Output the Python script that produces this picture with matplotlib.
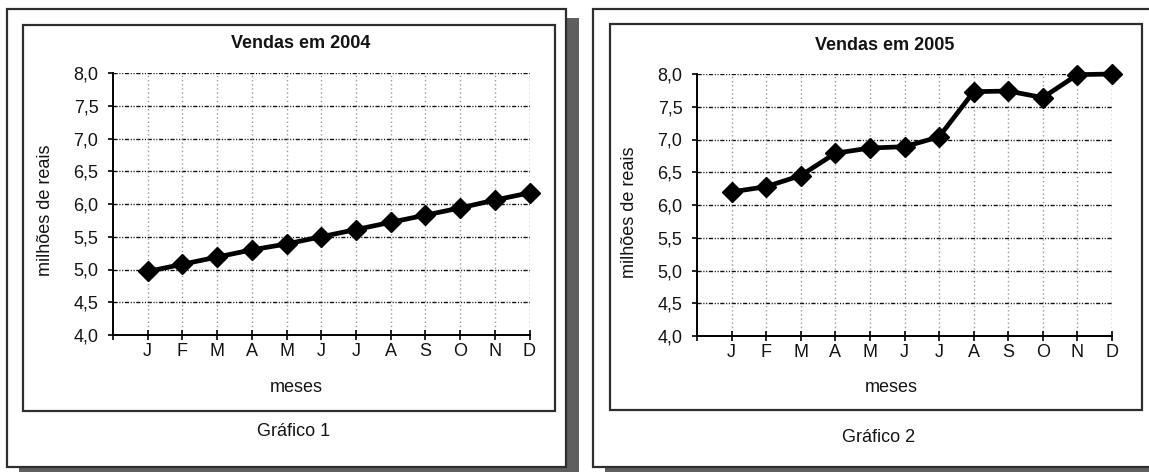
import matplotlib
matplotlib.use("Agg")
import matplotlib.pyplot as plt
from matplotlib.patches import Rectangle

plt.rcParams['font.family'] = ['Liberation Sans', 'DejaVu Sans']

months = ["J", "F", "M", "A", "M", "J", "J", "A", "S", "O", "N", "D"]
sales_2004 = [4.97, 5.08, 5.19, 5.30, 5.39, 5.50, 5.61, 5.72, 5.83, 5.94, 6.06, 6.17]
sales_2005 = [6.20, 6.28, 6.45, 6.79, 6.87, 6.89, 7.04, 7.73, 7.74, 7.64, 7.99, 8.00]
y_ticks = [4.0, 4.5, 5.0, 5.5, 6.0, 6.5, 7.0, 7.5, 8.0]
y_tick_labels = ["4,0", "4,5", "5,0", "5,5", "6,0", "6,5", "7,0", "7,5", "8,0"]
titles = ["Vendas em 2004", "Vendas em 2005"]
captions = ["Gráfico 1", "Gráfico 2"]
x_label = "meses"
y_label = "milhões de reais"

W, H = 1149, 472
fig = plt.figure(figsize=(W / 100, H / 100), dpi=100)

# background layer in pixel coordinates for the frames and shadows
bg = fig.add_axes([0, 0, 1, 1], zorder=-5)
bg.set_xlim(0, W)
bg.set_ylim(H, 0)
bg.axis("off")

SHADOW = "#5e5e5e"
FRAME = "#2e2e2e"
TEXT = "#141414"

def panel(x0, x1, y0, y1, ix0, ix1, iy0, iy1, shadow_right=True):
    if shadow_right:
        bg.add_patch(Rectangle((x1, y0 + 9), 13, H - (y0 + 9), color=SHADOW, lw=0))
    bg.add_patch(Rectangle((x0 + 12, y1), (x1 - x0) + 1, H - y1, color=SHADOW, lw=0))
    bg.add_patch(Rectangle((x0, y0), x1 - x0, y1 - y0, facecolor="white",
                           edgecolor=FRAME, lw=1.6))
    bg.add_patch(Rectangle((ix0, iy0), ix1 - ix0, iy1 - iy0, facecolor="white",
                           edgecolor=FRAME, lw=1.6))

panel(7, 566, 9, 467, 23, 555, 25, 411)
panel(593, 1165, 9, 467, 610, 1142, 24, 410, shadow_right=False)

def make_axes(spine_x, d_x, top_y, bot_y):
    return fig.add_axes([spine_x / W, (H - bot_y) / H,
                         (d_x - spine_x) / W, (bot_y - top_y) / H])

axes_boxes = [(113, 529.5, 73, 335), (697, 1112, 74, 336)]
text_pos = [
    dict(title=(301, 44), xl=(296, 387), cap=(294, 432), yl=(46, 210)),
    dict(title=(885, 45), xl=(891, 388), cap=(879, 437), yl=(629, 212)),
]
series = [sales_2004, sales_2005]

hgrid_style = (0, (3.0, 1.2, 0.8, 1.2, 0.8, 1.2))
vgrid_style = (0, (1.0, 2.0))

for box, tp, vals, title, cap in zip(axes_boxes, text_pos, series, titles, captions):
    ax = make_axes(*box)
    x = list(range(1, len(months) + 1))
    ax.set_xlim(0, len(months))
    ax.set_ylim(4.0, 8.0)
    ax.set_facecolor("none")

    for yv in y_ticks[1:]:
        ax.axhline(yv, color="#111111", lw=1.0, ls=hgrid_style, zorder=1)
    for xv in x:
        ax.axvline(xv, color="#555555" if xv == len(months) else "#9a9a9a",
                   lw=1.0, ls=vgrid_style, zorder=1)

    ax.plot(x, vals, color="black", lw=3.4, marker="D", markersize=10,
            markeredgecolor="black", zorder=3, clip_on=False)

    for s in ("top", "right"):
        ax.spines[s].set_visible(False)
    for s in ("left", "bottom"):
        ax.spines[s].set_linewidth(1.4)
        ax.spines[s].set_color("black")

    ax.set_yticks(y_ticks)
    ax.set_yticklabels(y_tick_labels)
    ax.set_xticks([0] + x)
    ax.set_xticklabels([""] + months)
    ax.tick_params(axis="y", direction="out", length=3.5, width=1.2, pad=7,
                   labelsize=13, colors="black", labelcolor=TEXT)
    ax.tick_params(axis="x", direction="inout", length=7, width=1.2, pad=2.5,
                   labelsize=13, colors="black", labelcolor=TEXT)

    fig.text(tp["title"][0] / W, 1 - tp["title"][1] / H, title, ha="center",
             va="center", fontsize=13, fontweight="bold", color=TEXT)
    fig.text(tp["xl"][0] / W, 1 - tp["xl"][1] / H, x_label, ha="center",
             va="center", fontsize=13, color=TEXT)
    fig.text(tp["cap"][0] / W, 1 - tp["cap"][1] / H, cap, ha="center",
             va="center", fontsize=13, color=TEXT)
    fig.text(tp["yl"][0] / W, 1 - tp["yl"][1] / H, y_label, ha="center",
             va="center", rotation=90, fontsize=13, color=TEXT)

fig.savefig("out.png", dpi=100, facecolor="white")
